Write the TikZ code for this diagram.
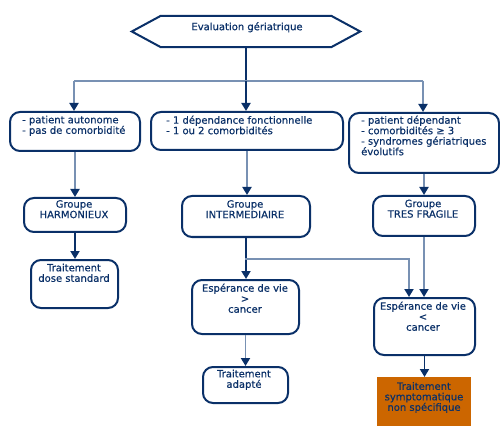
\documentclass[tikz,border=0pt]{standalone}
\usepackage{fontspec}
\setmainfont{DejaVu Sans}[FakeBold=0.4,BoldFont={DejaVu Sans}]
\usetikzlibrary{arrows.meta}
\definecolor{navy}{HTML}{0A3068}
\definecolor{lightln}{HTML}{7891B3}
\definecolor{orangebox}{HTML}{CC6600}
\newfontfamily\diagfont{DejaVu Sans}[FakeBold=0.4]
\tikzset{
  box/.style={draw=navy, line width=2pt, rounded corners=10pt, fill=white, inner sep=0pt, anchor=north west},
  txt/.style={inner sep=0pt, text=navy, font=\diagfont\fontsize{10}{10.5}\selectfont},
  ltxt/.style={txt, align=left, anchor=north west},
  ctxt/.style={txt, align=center, anchor=north},
  tip/.style={-{Triangle[width=9pt,length=8pt,color=navy]}},
  darkln/.style={draw=navy, line width=1.8pt},
  lightl/.style={draw=lightln, line width=1.8pt},
}
\begin{document}
\begin{tikzpicture}[x=1pt,y=-1pt]
\useasboundingbox[fill=white] (0,0) rectangle (500,430);
% top hexagon
\node[inner sep=0pt, minimum width=228pt, minimum height=31pt] (hex) at (246,31.5) {};
\draw[navy, line width=2pt, line join=miter] (hex.west) -- ([xshift=29pt]hex.north west) -- ([xshift=-29pt]hex.north east) -- (hex.east) -- ([xshift=-29pt]hex.south east) -- ([xshift=29pt]hex.south west) -- cycle;
\node[ctxt] (hext) at (247,22) {Evaluation gériatrique};
% row 1
\node[box, minimum width=130pt, minimum height=39pt] (A) at (9,111) {};
\node[ltxt] (At) at (22,115.5) {- patient autonome\\- pas de comorbidité};
\node[box, minimum width=192pt, minimum height=38pt] (B) at (150,111) {};
\node[ltxt] (Bt) at (166,115.5) {- 1 dépendance fonctionnelle\\- 1 ou 2 comorbidités};
\node[box, minimum width=150pt, minimum height=60pt] (C) at (348,112) {};
\node[ltxt] (Ct) at (361,115.5) {- patient dépendant\\- comorbidités ≥ 3\\- syndromes gériatriques\\évolutifs};
% row 2
\node[box, minimum width=102pt, minimum height=34pt] (H) at (23,197) {};
\node[ctxt] (Ht) at (74,200) {Groupe\\HARMONIEUX};
\node[box, minimum width=128pt, minimum height=41pt] (I) at (181,195) {};
\node[ctxt] (It) at (245,200) {Groupe\\INTERMEDIAIRE};
\node[box, minimum width=102pt, minimum height=40pt] (T) at (372,195) {};
\node[ctxt] (Tt) at (423,199.5) {Groupe\\TRES FRAGILE};
% row 3
\node[box, minimum width=87pt, minimum height=48pt] (S) at (30,259) {};
\node[ctxt] (St) at (74,263.5) {Traitement\\dose standard};
\node[box, minimum width=107pt, minimum height=54pt] (G) at (191,279) {};
\node[ctxt] (Gt) at (245,283.5) {Espérance de vie\\>\\cancer};
\node[box, minimum width=85pt, minimum height=36pt] (P) at (202,366) {};
\node[ctxt] (Pt) at (244,369.5) {Traitement\\adapté};
\node[box, minimum width=101pt, minimum height=57pt] (L) at (373,297) {};
\node[ctxt] (Lt) at (423,301.5) {Espérance de vie\\<\\cancer};
\node[fill=orangebox, inner sep=0pt, anchor=north west, minimum width=94pt, minimum height=49pt] (O) at (377,377) {};
\node[ctxt] (Ot) at (424,382) {Traitement\\symptomatique\\non spécifique};
% connectors
\coordinate (j1) at (246,81);
\coordinate (jl) at (74,81);
\coordinate (jr) at (423,81);
\coordinate (jb) at (245,259);
\coordinate (jb2) at (409,259);
\draw[darkln] (hex.south) -- (j1);
\draw[lightl] (jl) -- (jr);
\draw[lightl, tip] (jl) -- (jl |- A.north);
\draw[darkln, tip] (j1) -- (j1 |- B.north);
\draw[lightl, tip] (jr) -- (jr |- C.north);
\draw[lightl, tip] (A.south) -- (A.south |- H.north);
\draw[lightl, tip] (B.south) -- (B.south |- I.north);
\draw[lightl, tip] (C.south) -- (C.south |- T.north);
\draw[darkln, tip] (H.south) -- (H.south |- S.north);
\draw[darkln, tip] (I.south) -- (I.south |- G.north);
\draw[lightl, tip] (jb) -- (jb2) -- (jb2 |- L.north);
\draw[lightl, tip] (T.south) -- (T.south |- L.north);
\draw[lightl, tip] (G.south) -- (G.south |- P.north);
\draw[darkln, tip] (L.south) -- (L.south |- O.north);
\end{tikzpicture}
\end{document}
